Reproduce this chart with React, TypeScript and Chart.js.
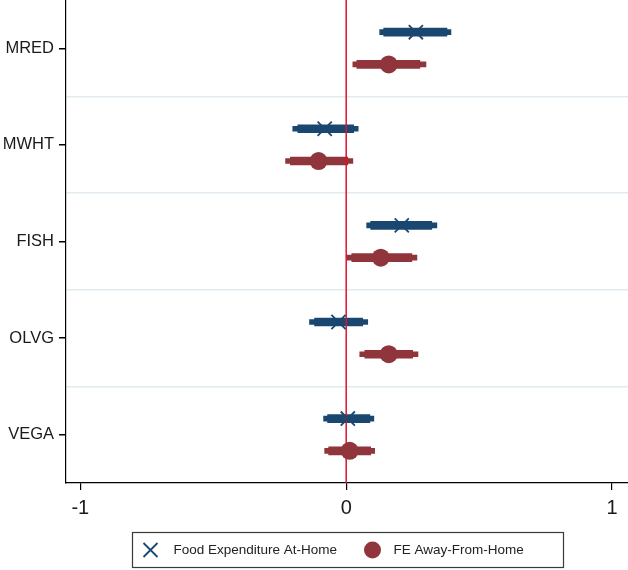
import React, { useEffect, useRef } from 'react';
import { Chart, registerables } from 'chart.js';

Chart.register(...registerables);

// ---- data ----
const categories = ['MRED', 'MWHT', 'FISH', 'OLVG', 'VEGA'];
const seriesNames = ['Food Expenditure At-Home', 'FE Away-From-Home'];

const homeCoef = [0.262, -0.081, 0.209, -0.029, 0.006];
const homeLo90 = [0.141, -0.182, 0.092, -0.119, -0.070];
const homeHi90 = [0.379, 0.028, 0.322, 0.062, 0.089];
const homeLo95 = [0.126, -0.201, 0.077, -0.138, -0.085];
const homeHi95 = [0.394, 0.045, 0.341, 0.081, 0.104];

const awayCoef = [0.160, -0.104, 0.130, 0.160, 0.013];
const awayLo90 = [0.040, -0.210, 0.021, 0.070, -0.066];
const awayHi90 = [0.277, 0.006, 0.247, 0.250, 0.092];
const awayLo95 = [0.025, -0.228, 0.002, 0.051, -0.081];
const awayHi95 = [0.300, 0.025, 0.266, 0.270, 0.107];

const xTicks = [-1, 0, 1];
const refLine = 0;

// ---- style ----
const BLUE = '#1a476f';
const RED = '#90353b';
const REF = '#dc1430';
const GRID = '#e2ecf0';
const FONT = '"Liberation Sans", Arial, sans-serif';
const OFF = 0.167;

export default function App() {
  const ref = useRef<HTMLCanvasElement | null>(null);

  useEffect(() => {
    if (!ref.current) return;
    const pos = (i: number, off: number) => i + 1 + off;
    const bars = (lo: number[], hi: number[], off: number) =>
      categories.map((_, i) => ({ x: [lo[i], hi[i]], y: pos(i, off) }));
    const pts = (c: number[], off: number) => categories.map((_, i) => ({ x: c[i], y: pos(i, off) }));

    const yTickVals: number[] = [];
    for (let i = 0; i < categories.length; i++) {
      yTickVals.push(i + 1);
      if (i < categories.length - 1) yTickVals.push(i + 1.5);
    }
    const isInt = (v: any) => typeof v === 'number' && Math.abs(v - Math.round(v)) < 1e-9;

    const legendPlugin = {
      id: 'boxLegend',
      afterDraw(chart: any) {
        const ctx = chart.ctx as CanvasRenderingContext2D;
        const ca = chart.chartArea;
        const cx = (ca.left + ca.right) / 2;
        const w = 431, h = 35;
        const left = Math.round(cx - w / 2) + 0.5;
        const top = 532.5;
        ctx.save();
        ctx.strokeStyle = '#3a3a3a';
        ctx.lineWidth = 1.2;
        ctx.strokeRect(left, top, w, h);
        const my = top + h / 2;
        // X marker
        ctx.strokeStyle = BLUE;
        ctx.lineWidth = 1.8;
        const s = 7;
        const mx = left + 18;
        ctx.beginPath();
        ctx.moveTo(mx - s, my - s); ctx.lineTo(mx + s, my + s);
        ctx.moveTo(mx + s, my - s); ctx.lineTo(mx - s, my + s);
        ctx.stroke();
        ctx.fillStyle = '#222';
        ctx.font = `13.5px ${FONT}`;
        ctx.textBaseline = 'middle';
        ctx.textAlign = 'left';
        ctx.fillText(seriesNames[0], left + 41, my);
        // circle marker
        ctx.fillStyle = RED;
        ctx.beginPath();
        ctx.arc(left + 240, my, 8.5, 0, Math.PI * 2);
        ctx.fill();
        ctx.fillStyle = '#222';
        ctx.fillText(seriesNames[1], left + 261, my);
        ctx.restore();
      },
    };

    const chart = new Chart(ref.current, {
      type: 'scatter',
      data: {
        datasets: [
          {
            type: 'line',
            data: [{ x: refLine, y: 0.5 }, { x: refLine, y: categories.length + 0.5 }],
            borderColor: REF,
            borderWidth: 1.5,
            pointRadius: 0,
            order: 2,
          } as any,
          {
            type: 'bar', indexAxis: 'y', grouped: false, barThickness: 5,
            data: bars(homeLo95, homeHi95, -OFF), backgroundColor: BLUE, order: 4,
          } as any,
          {
            type: 'bar', indexAxis: 'y', grouped: false, barThickness: 8,
            data: bars(homeLo90, homeHi90, -OFF), backgroundColor: BLUE, order: 3,
          } as any,
          {
            type: 'bar', indexAxis: 'y', grouped: false, barThickness: 5,
            data: bars(awayLo95, awayHi95, OFF), backgroundColor: RED, order: 4,
          } as any,
          {
            type: 'bar', indexAxis: 'y', grouped: false, barThickness: 8,
            data: bars(awayLo90, awayHi90, OFF), backgroundColor: RED, order: 3,
          } as any,
          {
            label: seriesNames[0],
            data: pts(homeCoef, -OFF),
            pointStyle: 'crossRot', pointRadius: 10, borderColor: BLUE, borderWidth: 1.8,
            backgroundColor: BLUE, order: 1,
          } as any,
          {
            label: seriesNames[1],
            data: pts(awayCoef, OFF),
            pointStyle: 'circle', pointRadius: 9, borderWidth: 0, backgroundColor: RED, order: 0,
          } as any,
        ],
      },
      options: {
        animation: false,
        responsive: true,
        maintainAspectRatio: false,
        events: [],
        layout: { padding: 0, autoPadding: false },
        plugins: { legend: { display: false }, tooltip: { enabled: false } },
        scales: {
          x: {
            type: 'linear',
            min: -1.054,
            max: 1.06,
            offset: false,
            afterBuildTicks: (s: any) => { s.ticks = xTicks.map((v) => ({ value: v })); },
            afterFit: (s: any) => { s.height = 87; s.paddingLeft = 0; s.paddingRight = 0; },
            ticks: {
              autoSkip: false, maxRotation: 0, padding: 6, color: '#1a1a1a',
              font: { size: 20, family: FONT },
              callback: (v: any) => String(v),
            },
            grid: { drawOnChartArea: false, tickLength: 7, tickColor: '#000', color: '#000', lineWidth: 1.2 },
            border: { color: '#000', width: 1.2 },
          },
          y: {
            type: 'linear',
            reverse: true,
            min: 0.5,
            max: categories.length + 0.5,
            offset: false,
            afterBuildTicks: (s: any) => { s.ticks = yTickVals.map((v) => ({ value: v })); },
            afterFit: (s: any) => { s.width = 66; s.paddingTop = 0; s.paddingBottom = 0; },
            ticks: {
              autoSkip: false, padding: 5, color: '#1a1a1a',
              font: { size: 16.5, family: FONT },
              callback: (v: any) => (isInt(v) ? categories[Math.round(v) - 1] : ''),
            },
            grid: {
              offset: false,
              tickLength: 7,
              lineWidth: 1.5,
              color: (c: any) => (isInt(c.tick && c.tick.value) ? 'rgba(0,0,0,0)' : GRID),
              tickColor: (c: any) => (isInt(c.tick && c.tick.value) ? '#000' : 'rgba(0,0,0,0)'),
            },
            border: { color: '#000', width: 1.2 },
          },
        },
      } as any,
      plugins: [legendPlugin],
    });
    return () => chart.destroy();
  }, []);

  return (
    <div style={{ position: 'absolute', left: 0, top: 0, width: 628, height: 570, background: '#fff' }}>
      <canvas ref={ref} />
    </div>
  );
}
